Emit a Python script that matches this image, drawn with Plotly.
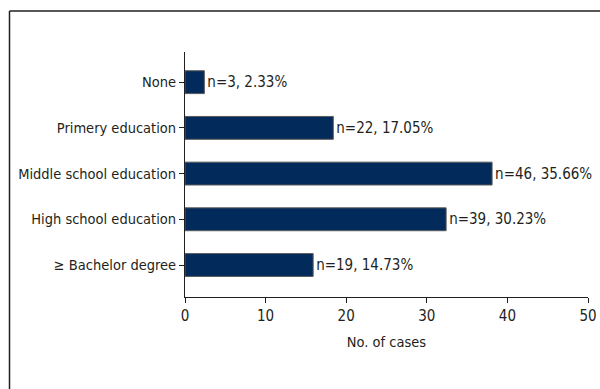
import plotly.graph_objects as go

categories = ["≥ Bachelor degree", "High school education", "Middle school education",
              "Primery education", "None"]
bar_values = [15.9, 32.4, 38.1, 18.4, 2.4]
bar_labels = ["n=19, 14.73%", "n=39, 30.23%", "n=46, 35.66%", "n=22, 17.05%", "n=3, 2.33%"]
x_ticks = [0, 10, 20, 30, 40, 50]

FONT = "DejaVu Sans Condensed"
TXT = "#231f20"

fig = go.Figure(go.Bar(
    y=categories, x=bar_values, orientation="h",
    width=0.5,
    marker=dict(color="#022a5a", line=dict(color="#5a5a5a", width=1)),
    text=bar_labels, textposition="outside", cliponaxis=False,
    textfont=dict(family=FONT, size=15, color=TXT),
))

W, H = 600, 389
L, R, T, B = 185, 12, 52, 92
pw, ph = W - L - R, H - T - B
bx = (9.5 - L) / pw
by = (H - B - 11) / ph

fig.update_layout(
    width=W, height=H,
    margin=dict(l=L, r=R, t=T, b=B),
    paper_bgcolor="white", plot_bgcolor="white",
    font=dict(family=FONT, size=15, color=TXT),
    showlegend=False,
    xaxis=dict(range=[0, 50], tickvals=x_ticks, ticks="outside", ticklen=5,
               tickcolor="#231f20", showline=True, linecolor="#231f20", linewidth=1,
               showgrid=False, zeroline=False, automargin=False,
               tickfont=dict(size=15),
               title=dict(text="No. of cases", standoff=12, font=dict(size=14.5))),
    yaxis=dict(categoryorder="array", categoryarray=categories, range=[-0.7, 4.66],
               ticks="outside", ticklen=5, tickcolor="#231f20", automargin=False,
               tickfont=dict(size=14.5),
               showline=True, linecolor="#231f20", linewidth=1, showgrid=False),
    shapes=[
        dict(type="line", xref="paper", yref="paper", x0=bx, x1=1.2, y0=by, y1=by,
             line=dict(color="#231f20", width=1.5)),
        dict(type="line", xref="paper", yref="paper", x0=bx, x1=bx, y0=by, y1=-0.5,
             line=dict(color="#231f20", width=1.5)),
    ],
)

fig.write_html("out.html")
